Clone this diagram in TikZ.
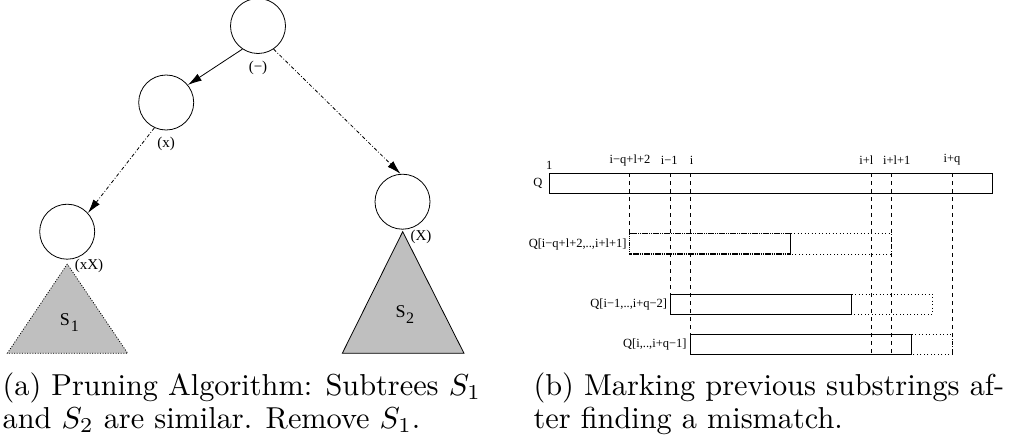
\documentclass[tikz,border=0pt]{standalone}
\usepackage{fontspec}
\newfontfamily\tfont{Liberation Serif}
\usetikzlibrary{arrows.meta}

\tikzset{
  vert/.style={circle, draw, line width=0.8pt, minimum size=55pt, inner sep=0pt},
  tlabel/.style={font=\tfont\fontsize{15}{15}\selectfont, inner sep=0pt},
  slabel/.style={font=\tfont\fontsize{18}{18}\selectfont, inner sep=0pt},
  sidx/.style={font=\tfont\fontsize{16}{16}\selectfont, inner sep=0pt},
  qlabel/.style={font=\tfont\fontsize{12.5}{12.5}\selectfont, inner sep=0pt},
  tedge/.style={line width=0.8pt, -{Latex[length=14pt,width=8pt]}},
  dashdot/.style={dash pattern=on 3.5pt off 2pt on 0.8pt off 2pt},
  subtree/.style={fill=black!25, line width=0.8pt},
  guide/.style={line width=0.7pt, dash pattern=on 4pt off 4pt},
  strbox/.style={line width=1pt},
  ext/.style={line width=0.8pt, dash pattern=on 1pt off 2.5pt},
  capline/.style={anchor=base west, inner sep=0pt, scale=3.03, font=\fontsize{10}{12}\selectfont}
}

\begin{document}
\begin{tikzpicture}[x=1pt,y=-1pt]
\useasboundingbox (0,0) rectangle (1019,444);

% ---------- (a) the search tree ----------
\draw[subtree, dash pattern=on 1pt off 1.6pt] (67.3,264) -- (7.3,353.3) -- (127.7,353.3) -- cycle;
\draw[subtree] (402.7,231.7) -- (342.3,353.3) -- (464,353.3) -- cycle;

\node[vert] (root) at (258,26) {};
\node[vert] (nx)   at (166.2,102.5) {};
\node[vert] (nxX)  at (67.2,231.7) {};
\node[vert] (nX)   at (402.5,201.7) {};

\node[tlabel] (lroot) at (258,68)  {(−)};
\node[tlabel] (lx)    at (166,144) {(x)};
\node[tlabel] (lxX)   at (89,266)  {(xX)};
\node[tlabel] (lX)    at (421,236.5) {(X)};

\node[slabel] (s1) at (65,319.5)   {S};
\node[sidx]   (s1i) at (74.8,326.5) {1};
\node[slabel] (s2) at (400.5,311.7) {S};
\node[sidx]   (s2i) at (410,318.5) {2};

\draw[tedge] (root.-124) -- (nx.39);
\draw[tedge, dashdot] (nx.-115) -- (nxX.42);
\draw[tedge, dashdot] (root.-56) -- (nX.94);

% ---------- (b) marking substrings ----------
% positions of the marks along Q
\def\xa{629.5}\def\xb{670}\def\xc{690.7}\def\xd{871.3}\def\xe{891.7}\def\xf{952}

\draw[guide] (\xa,173.3) -- (\xa,233.3);
\draw[guide] (\xb,173.3) -- (\xb,294);
\draw[guide] (\xc,173.3) -- (\xc,334);
\draw[guide] (\xd,173.3) -- (\xd,354);
\draw[guide] (\xe,173.3) -- (\xe,354);
\draw[guide] (\xf,173.3) -- (\xf,354);

\draw[strbox] (549.3,173.3) rectangle (992,193.3);

\draw[ext] (790.7,233.3) -- (\xe,233.3) -- (\xe,254) -- (790.7,254);
\draw[line width=1.4pt, dash pattern=on 1.5pt off 0.7pt] (\xa,233.3) rectangle (790.7,254);
\draw[strbox] (790.7,233.3) -- (790.7,254);

\draw[ext] (851.7,294) -- (932.7,294) -- (932.7,314) -- (851.7,314);
\draw[strbox] (\xb,294) rectangle (851.7,314);

\draw[ext] (911.7,334) -- (\xf,334) -- (\xf,354) -- (911.7,354);
\draw[strbox] (\xc,334) rectangle (911.7,354);

\node[qlabel] (q)  at (538,183) {Q};
\node[qlabel] (one) at (549.3,165) {1};
\node[qlabel] (ta) at (630,160) {i−q+l+2};
\node[qlabel] (tb) at (669.3,160) {i−1};
\node[qlabel] (tc) at (691.7,160) {i};
\node[qlabel] (td) at (866.3,160) {i+l};
\node[qlabel] (te) at (896.7,160) {i+l+1};
\node[qlabel] (tf) at (952,160) {i+q};

\node[qlabel, anchor=east] (q2) at (626.7,244) {Q[i−q+l+2,..,i+l+1]};
\node[qlabel, anchor=east] (q3) at (667.3,304) {Q[i−1,..,i+q−2]};
\node[qlabel, anchor=east] (q4) at (686.7,344) {Q[i,..,i+q−1]};

% ---------- captions ----------
\node[capline] (ca1) at (2,395) {(a) Pruning Algorithm: Subtrees $S_1$};
\node[capline] (ca2) at (2,428) {and $S_2$ are similar. Remove $S_1$.};
\node[capline] (cb1) at (533,395) {(b) Marking previous substrings af-};
\node[capline] (cb2) at (533,428) {ter finding a mismatch.};
\end{tikzpicture}
\end{document}
